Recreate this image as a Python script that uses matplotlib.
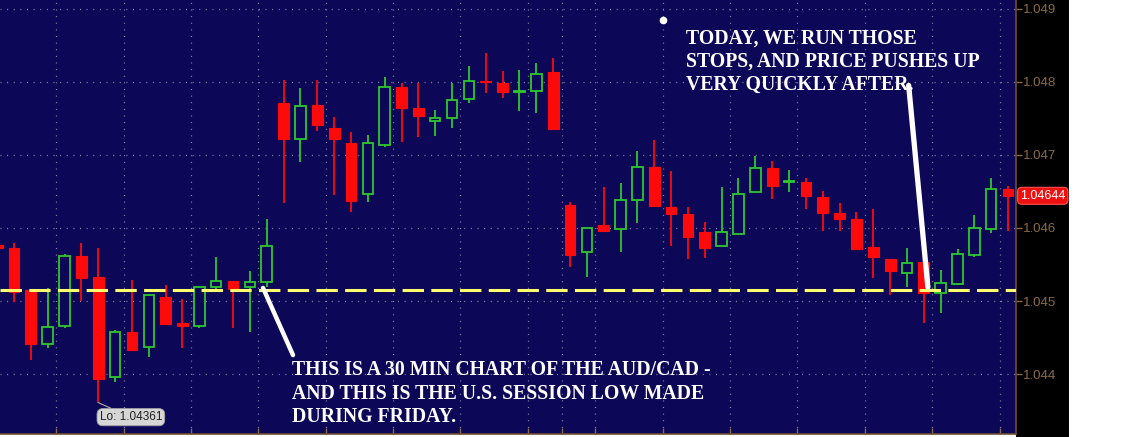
import numpy as np
import matplotlib.pyplot as plt
from matplotlib.patches import Rectangle

# 30 min AUD/CAD candles (index -1 is the half-visible bar on the left edge)
idx = list(range(-1, 60))
opens = [1.04577, 1.04573, 1.04515, 1.04441, 1.04466, 1.04562, 1.04533, 1.04396, 1.04458, 1.04437,
         1.04505, 1.04470, 1.04466, 1.04519, 1.04527, 1.04519, 1.04526, 1.04771, 1.04722, 1.04768,
         1.04737, 1.04716, 1.04647, 1.04714, 1.04793, 1.04764, 1.04747, 1.04751, 1.04777, 1.04801,
         1.04799, 1.04786, 1.04788, 1.04814, 1.04632, 1.04567, 1.04604, 1.04599, 1.04638, 1.04684,
         1.04629, 1.04619, 1.04595, 1.04575, 1.04592, 1.04649, 1.04682, 1.04663, 1.04663, 1.04642,
         1.04621, 1.04612, 1.04574, 1.04558, 1.04538, 1.04553, 1.04511, 1.04523, 1.04563, 1.04599,
         1.04653]
highs = [1.04577, 1.04579, 1.04515, 1.04518, 1.04564, 1.04579, 1.04573, 1.04460, 1.04529, 1.04508,
         1.04522, 1.04503, 1.04519, 1.04560, 1.04527, 1.04541, 1.04612, 1.04803, 1.04792, 1.04803,
         1.04752, 1.04732, 1.04727, 1.04807, 1.04799, 1.04799, 1.04762, 1.04799, 1.04821, 1.04840,
         1.04815, 1.04816, 1.04826, 1.04832, 1.04636, 1.04600, 1.04656, 1.04662, 1.04705, 1.04721,
         1.04678, 1.04629, 1.04608, 1.04656, 1.04668, 1.04699, 1.04692, 1.04679, 1.04668, 1.04651,
         1.04634, 1.04622, 1.04626, 1.04558, 1.04573, 1.04553, 1.04542, 1.04571, 1.04618, 1.04668,
         1.04658]
lows = [1.04573, 1.04499, 1.04419, 1.04436, 1.04463, 1.04500, 1.04361, 1.04389, 1.04433, 1.04423,
        1.04468, 1.04436, 1.04463, 1.04512, 1.04463, 1.04458, 1.04519, 1.04634, 1.04690, 1.04733,
        1.04645, 1.04622, 1.04636, 1.04711, 1.04718, 1.04725, 1.04726, 1.04737, 1.04771, 1.04785,
        1.04778, 1.04760, 1.04758, 1.04736, 1.04547, 1.04533, 1.04596, 1.04567, 1.04607, 1.04630,
        1.04575, 1.04558, 1.04559, 1.04575, 1.04592, 1.04649, 1.04640, 1.04649, 1.04626, 1.04596,
        1.04596, 1.04571, 1.04532, 1.04508, 1.04519, 1.04470, 1.04484, 1.04522, 1.04560, 1.04593,
        1.04596]
closes = [1.04573, 1.04512, 1.04441, 1.04464, 1.04562, 1.04532, 1.04393, 1.04458, 1.04433, 1.04508,
          1.04468, 1.04466, 1.04519, 1.04527, 1.04516, 1.04526, 1.04575, 1.04722, 1.04767, 1.04741,
          1.04722, 1.04637, 1.04716, 1.04793, 1.04764, 1.04753, 1.04751, 1.04775, 1.04801, 1.04800,
          1.04786, 1.04788, 1.04811, 1.04736, 1.04563, 1.04600, 1.04596, 1.04638, 1.04684, 1.04630,
          1.04619, 1.04588, 1.04573, 1.04595, 1.04647, 1.04682, 1.04658, 1.04663, 1.04644, 1.04621,
          1.04612, 1.04571, 1.04560, 1.04541, 1.04552, 1.04511, 1.04525, 1.04564, 1.04600, 1.04653,
          1.04644]

support = 1.04515
session_low = 1.04361
last_price = 1.04644
price_ticks = [1.044, 1.045, 1.046, 1.047, 1.048, 1.049]
grid_x = [2.5, 6.5, 10.5, 14.5, 18.5, 22.5, 26.5, 30.5, 32.5, 34.5, 38.5, 42.5, 46.5, 50.5, 54.5, 58.5]

note_today = "TODAY, WE RUN THOSE\nSTOPS, AND PRICE PUSHES UP\nVERY QUICKLY AFTER."
note_friday = ("THIS IS A 30 MIN CHART OF THE AUD/CAD -\n"
               "AND THIS IS THE U.S. SESSION LOW MADE\nDURING FRIDAY.")

bg = '#0c0757'
red = '#ff0a0a'
green = '#2ec82e'
brown = '#8a6a44'

W, H = 1139, 437
fig = plt.figure(figsize=(W / 100, H / 100), dpi=100, facecolor='white')
# black price-scale strip, kept behind the axes
fig.patches.append(Rectangle((1016 / W, 0), 53 / W, 1, transform=fig.transFigure,
                             facecolor='black', edgecolor='none', zorder=-5))
ax = fig.add_axes([0, 3 / H, 1016 / W, 434 / H])
ax.set_facecolor(bg)

o = np.array(opens); c = np.array(closes); h = np.array(highs); l = np.array(lows)
x = np.array(idx)
up = c >= o
cols = np.where(up, green, red)

ax.vlines(x, l, h, colors=cols, linewidth=1.3, zorder=3)
body_lo = np.minimum(o, c)
body_h = np.maximum(np.abs(c - o), 0.000012)
ax.bar(x[~up], body_h[~up], bottom=body_lo[~up], width=0.64, color=red,
       edgecolor=red, linewidth=0.8, zorder=4)
ax.bar(x[up], body_h[up], bottom=body_lo[up], width=0.62, color=bg,
       edgecolor=green, linewidth=1.3, zorder=4)

# dotted grid
for p in price_ticks:
    ax.axhline(p, color='#8a8aa8', linestyle=(0, (0.8, 4.5)), linewidth=0.9, zorder=1)
for g in grid_x:
    ax.axvline(g, color='#8a8aa8', linestyle=(0, (0.8, 4.5)), linewidth=0.9, zorder=1)

ax.axhline(support, color='#ffff6e', linewidth=2.2, linestyle=(0, (7, 2.4)), zorder=5)

ax.set_xlim(-0.83, 59.47)
ax.set_ylim(1.04318, 1.04912)
ax.yaxis.tick_right()
ax.set_yticks(price_ticks)
ax.set_yticklabels(['%.3f' % p for p in price_ticks], fontsize=9.5,
                   family='Liberation Sans', color=brown)
ax.set_xticks(grid_x)
ax.set_xticklabels([])
ax.tick_params(axis='y', colors=brown, length=4, width=1, pad=1, labelcolor=brown)
ax.tick_params(axis='x', colors=brown, length=4, width=1, direction='in')
for side in ['top', 'left']:
    ax.spines[side].set_visible(False)
for side in ['right', 'bottom']:
    ax.spines[side].set_color('#6e4e32')
    ax.spines[side].set_linewidth(1.2)

# price tags
ax.annotate('Lo: %.5f' % session_low, xy=(5, session_low), xytext=(23.5, -10.5),
            textcoords='offset points', fontsize=8.5, family='Liberation Sans',
            color='#202020', ha='center', va='center',
            bbox=dict(boxstyle='round,pad=0.22,rounding_size=0.5', fc='#d6d6d6', ec='#a0a0a0', lw=0.6),
            arrowprops=dict(arrowstyle='-', color='#b0b0b0', lw=0.8, shrinkA=0, shrinkB=0),
            zorder=6)
ax.text(1.004, last_price, '%.5f' % last_price, transform=ax.get_yaxis_transform(),
        fontsize=9, family='Liberation Sans', color='white', ha='left', va='center',
        bbox=dict(boxstyle='round,pad=0.2,rounding_size=0.35', fc='#ee1010', ec='#ff5050', lw=0.8),
        clip_on=False, zorder=7)

# hand-drawn notes
serif = ['Liberation Serif', 'DejaVu Serif']
ax.text(39.9, 1.04873, note_today, color='white', fontsize=14.2, fontweight='bold',
        family=serif, va='top', ha='left', linespacing=1.22, zorder=8)
ax.text(16.5, 1.04419, note_friday, color='white', fontsize=14.2, fontweight='bold',
        family=serif, va='top', ha='left', linespacing=1.22, zorder=8)
ax.plot([14.78, 16.56], [1.04518, 1.04426], color='white', linewidth=3.2,
        solid_capstyle='round', zorder=8)
ax.plot([53.1, 54.24], [1.04795, 1.04519], color='white', linewidth=3.8,
        solid_capstyle='round', zorder=8)
ax.plot([38.5], [1.04884], marker='o', markersize=4.5, color='white', zorder=8)

fig.savefig('out.png', dpi=100, facecolor='white')
